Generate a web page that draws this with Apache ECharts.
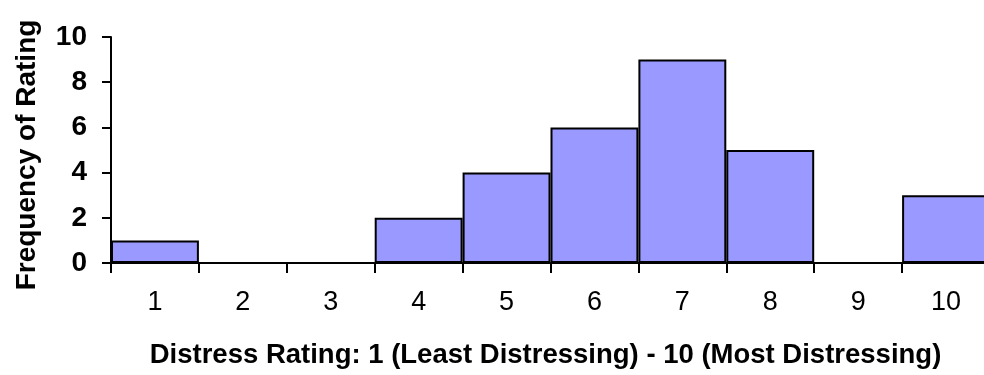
<!DOCTYPE html>
<html>
<head>
<meta charset="utf-8">
<script src="https://cdn.jsdelivr.net/npm/echarts@6/dist/echarts.min.js"></script>
<style>
  html, body { margin: 0; padding: 0; background: #fff; }
  #chart { width: 984px; height: 375px; }
</style>
</head>
<body>
<div id="chart"></div>
<script>
// ratings and how often each was given
const ratings = ['1', '2', '3', '4', '5', '6', '7', '8', '9', '10'];
const frequency = [1, 0, 0, 2, 4, 6, 9, 5, 0, 3];
const yTicks = [0, 2, 4, 6, 8, 10];

const chart = echarts.init(document.getElementById('chart'));
const font = '"Liberation Sans", Arial, sans-serif';

chart.setOption({
  animation: false,
  backgroundColor: '#fff',
  // plot runs a little past the right edge of the window, like the original
  grid: { left: 111, width: 879, top: 37, height: 226, containLabel: false, outerBoundsMode: 'none' },
  xAxis: {
    type: 'category',
    data: ratings,
    name: 'Distress Rating: 1 (Least Distressing) - 10 (Most Distressing)',
    nameLocation: 'middle',
    nameGap: 78,
    nameTextStyle: { fontFamily: font, fontSize: 27.5, fontWeight: 'bold', color: '#000', padding: [0, 0, 0, -10] },
    axisLine: { lineStyle: { color: '#000', width: 2 } },
    axisTick: { show: true, length: 10, alignWithLabel: false, lineStyle: { color: '#000', width: 2 } },
    axisLabel: { fontFamily: font, fontSize: 27, color: '#000', margin: 26 },
    splitLine: { show: false }
  },
  yAxis: {
    type: 'value',
    min: yTicks[0],
    max: yTicks[yTicks.length - 1],
    interval: 2,
    name: 'Frequency of Rating',
    nameLocation: 'middle',
    nameGap: 70,
    nameTextStyle: { fontFamily: font, fontSize: 28, fontWeight: 'bold', color: '#000', padding: [0, 10, 0, 0] },
    axisLine: { show: true, lineStyle: { color: '#000', width: 2 } },
    axisTick: { show: true, length: 9, lineStyle: { color: '#000', width: 2 } },
    axisLabel: { fontFamily: font, fontSize: 28, fontWeight: 'bold', color: '#000', margin: 24 },
    splitLine: { show: false }
  },
  series: [{
    type: 'bar',
    data: frequency,
    barCategoryGap: 0,
    itemStyle: { color: '#9999FF', borderColor: '#000', borderWidth: 2 }
  }]
});
</script>
</body>
</html>
